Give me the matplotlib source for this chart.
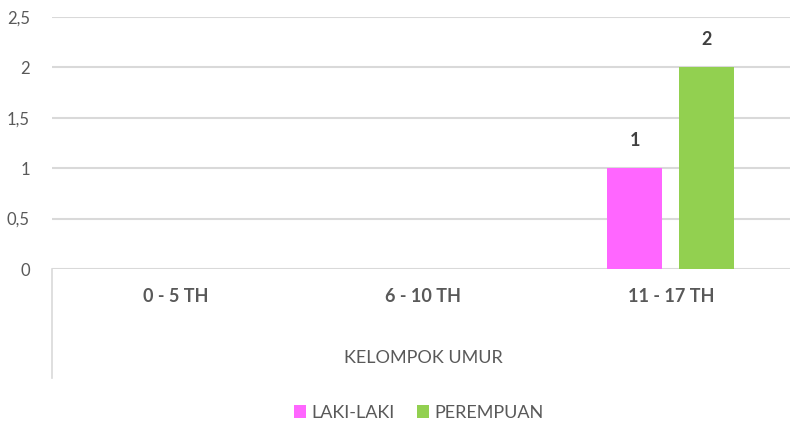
import matplotlib.pyplot as plt
import numpy as np

plt.rcParams['font.family'] = ['Lato', 'DejaVu Sans']

# data
categories = ['0 - 5 TH', '6 - 10 TH', '11 - 17 TH']
laki = [0, 0, 1]
perempuan = [0, 0, 2]
series_names = ['LAKI-LAKI', 'PEREMPUAN']
yticks = [0, 0.5, 1, 1.5, 2, 2.5]
ytick_labels = ['0', '0,5', '1', '1,5', '2', '2,5']

grey = '#595959'
pink = '#FF66FF'
green = '#92D050'

fig = plt.figure(figsize=(7.9, 4.29), dpi=100)
ax = fig.add_axes([52 / 790, 160 / 429, 745 / 790, 252 / 429])

x = np.arange(len(categories))
w = 0.223
off = 0.145
b1 = ax.bar(x - off, laki, w, color=pink, label=series_names[0], zorder=3)
b2 = ax.bar(x + off, perempuan, w, color=green, label=series_names[1], zorder=3)

# data labels only on non-zero bars
for bars, vals in [(b1, laki), (b2, perempuan)]:
    for rect, v in zip(bars, vals):
        if v > 0:
            ax.annotate(str(v), (rect.get_x() + rect.get_width() / 2, v),
                        xytext=(0, 14), textcoords='offset points',
                        ha='center', va='bottom', fontsize=13,
                        fontweight='bold', color='#404040')

ax.set_xlim(-0.5, 2.51)
ax.set_ylim(0, 2.5)
ax.set_yticks(yticks)
ax.set_yticklabels(ytick_labels)
ax.yaxis.grid(True, color='#D9D9D9', linewidth=1.5, zorder=0)
ax.set_axisbelow(True)
for s in ['top', 'right', 'left', 'bottom']:
    ax.spines[s].set_visible(False)
ax.tick_params(axis='y', length=0, pad=16, labelsize=12, labelcolor=grey)
ax.tick_params(axis='x', length=0, pad=14, labelsize=13, labelcolor=grey)
ax.set_xticks(x)
ax.set_xticklabels(categories, fontweight='bold')

# left border of the category axis block
ax.plot([-0.5, -0.5], [0, -1.08], color='#D9D9D9', linewidth=1.2,
        clip_on=False)

fig.text(423 / 790, 1 - 358 / 429, 'KELOMPOK UMUR', ha='center', va='center',
         fontsize=13, color=grey)

fig.legend(handles=[b1, b2], loc='center', bbox_to_anchor=(0.53, 1 - 413 / 429),
           ncol=2, frameon=False, fontsize=13, labelcolor=grey,
           handlelength=0.7, handleheight=0.7, handletextpad=0.3,
           columnspacing=1.2)

fig.savefig('out.png', dpi=100)
